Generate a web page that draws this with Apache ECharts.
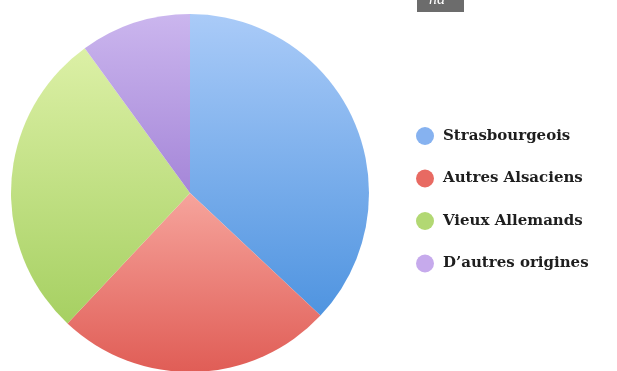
<!DOCTYPE html>
<html>
<head>
<meta charset="utf-8">
<script src="https://cdn.jsdelivr.net/npm/echarts@6/dist/echarts.min.js"></script>
<style>
  html, body { margin: 0; padding: 0; background: #ffffff; }
  #chart { width: 617px; height: 371px; }
</style>
</head>
<body>
<div id="chart"></div>
<script>
// Origin groups and their shares (percent)
const categories = ['Strasbourgeois', 'Autres Alsaciens', 'Vieux Allemands', "D\u2019autres origines"];
const shares = [37, 25, 28, 10];

// Slice shading: light tone at top, deeper tone at bottom
const topColors = ['#aacbf8', '#f6a49c', '#dcf0a6', '#cbb6ee'];
const bottomColors = ['#4f94e0', '#e05d56', '#a6d062', '#a586d8'];
const legendColors = ['#86b2f0', '#e86a62', '#b2d873', '#c6aaec'];

function shade(i) {
  return new echarts.graphic.LinearGradient(0, 0, 0, 1, [
    { offset: 0, color: topColors[i] },
    { offset: 1, color: bottomColors[i] }
  ]);
}

const chart = echarts.init(document.getElementById('chart'), null, { renderer: 'canvas' });

chart.setOption({
  backgroundColor: '#ffffff',
  animation: false,
  legend: {
    orient: 'vertical',
    left: 411,
    top: 122,
    icon: 'circle',
    itemWidth: 18,
    itemHeight: 18,
    itemGap: 24.5,
    selectedMode: false,
    textStyle: {
      fontFamily: 'DejaVu Serif',
      fontWeight: 'bold',
      fontSize: 15,
      color: '#1e1e1e',
      padding: [0, 0, 0, 4]
    },
    data: categories.map((name, i) => ({ name, itemStyle: { color: legendColors[i] } }))
  },
  graphic: [
    {
      type: 'rect',
      shape: { x: 417, y: 0, width: 47, height: 12 },
      style: { fill: '#6c6c6c' }
    },
    {
      type: 'text',
      x: 429,
      y: -8,
      style: {
        text: 'na',
        fill: '#ffffff',
        font: 'italic 16px "Liberation Serif"'
      }
    }
  ],
  series: [
    {
      type: 'pie',
      center: [190, 193],
      radius: 179,
      startAngle: 90,
      clockwise: true,
      label: { show: false },
      labelLine: { show: false },
      emphasis: { disabled: true },
      itemStyle: { borderWidth: 0 },
      data: categories.map((name, i) => ({
        name,
        value: shares[i],
        itemStyle: { color: shade(i) }
      }))
    }
  ]
});
</script>
</body>
</html>
